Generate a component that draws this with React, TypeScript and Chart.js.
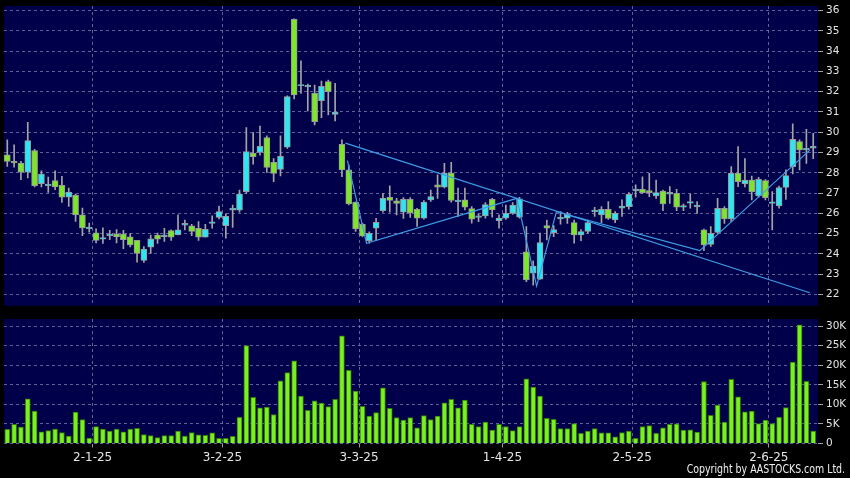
import React, { useEffect, useRef } from 'react';
import { Chart, registerables } from 'chart.js';

Chart.register(...registerables);

// ---- data (index 0 = first trading day shown) ----
const OPEN = [
  28.89, 28.52, 28.48, 28.03, 29.10, 27.46, 27.40, 27.62, 27.38, 26.80,
  26.89, 25.92, 25.28, 25.03, 24.72, 24.90, 24.97, 24.98, 24.84, 24.67,
  23.68, 24.33, 24.92, 24.89, 25.15, 24.95, 25.41, 25.38, 25.26, 24.82,
  25.54, 25.80, 25.39, 26.16, 26.15, 27.07, 28.97, 29.00, 29.74, 28.52,
  28.17, 29.26, 35.57, 32.30, 32.28, 31.92, 31.56, 32.50, 30.88, 29.40,
  28.14, 26.54, 25.46, 24.65, 25.26, 26.13, 26.79, 26.62, 26.05, 26.69,
  26.20, 25.76, 26.66, 27.40, 27.29, 27.98, 26.61, 26.66, 26.23, 25.84,
  25.87, 26.69, 25.64, 25.76, 26.00, 25.81, 24.10, 23.04, 22.75, 25.40,
  25.05, 25.76, 25.76, 25.54, 24.93, 25.10, 26.12, 25.92, 26.20, 25.67,
  26.25, 26.33, 27.15, 27.18, 27.12, 26.86, 27.10, 26.99, 26.99, 26.30,
  26.54, 26.36, 25.18, 24.47, 25.06, 26.25, 25.72, 27.97, 27.45, 27.64,
  26.86, 27.61, 26.53, 26.36, 27.28, 28.30, 29.54, 29.13, 29.26,
];
const HIGH = [
  29.62, 29.38, 28.56, 30.49, 29.16, 28.10, 27.79, 28.10, 27.82, 27.25,
  26.95, 26.26, 25.52, 25.23, 25.28, 25.16, 25.20, 25.16, 25.00, 24.67,
  24.36, 24.93, 25.02, 25.26, 25.18, 25.92, 25.67, 25.46, 25.59, 25.46,
  25.87, 26.36, 25.97, 26.41, 27.15, 30.23, 29.98, 30.30, 29.82, 28.70,
  29.82, 31.80, 35.60, 33.52, 32.38, 32.33, 32.53, 32.58, 32.41, 29.62,
  28.38, 26.57, 25.51, 25.09, 25.75, 26.99, 27.35, 26.74, 26.77, 26.77,
  26.25, 26.63, 27.15, 27.90, 28.47, 28.52, 27.24, 27.24, 26.33, 25.97,
  26.53, 26.74, 25.92, 26.41, 26.53, 26.79, 25.35, 23.65, 25.02, 25.67,
  25.40, 26.09, 26.05, 25.67, 25.20, 25.67, 26.30, 26.33, 26.58, 26.08,
  26.66, 27.02, 27.40, 27.80, 27.97, 27.64, 27.15, 27.32, 27.18, 26.46,
  26.95, 26.58, 25.22, 25.34, 26.74, 26.33, 28.30, 29.29, 28.70, 27.84,
  27.78, 27.66, 27.07, 27.34, 28.14, 30.41, 29.62, 30.14, 29.95,
];
const LOW = [
  28.31, 28.28, 27.66, 27.74, 27.30, 27.30, 27.03, 27.16, 26.54, 26.34,
  25.60, 24.90, 25.07, 24.54, 24.51, 24.70, 24.54, 24.25, 24.34, 23.59,
  23.57, 24.02, 24.51, 24.61, 24.66, 24.93, 25.18, 24.90, 24.66, 24.82,
  25.26, 25.72, 24.77, 25.30, 26.05, 26.98, 28.43, 28.87, 28.02, 27.56,
  27.85, 29.20, 31.64, 31.92, 31.05, 30.36, 30.72, 30.85, 30.56, 27.81,
  26.41, 25.10, 24.85, 24.52, 24.68, 26.05, 26.05, 25.92, 25.75, 25.80,
  25.35, 25.71, 26.58, 26.74, 27.25, 26.55, 25.84, 26.17, 25.51, 25.59,
  25.76, 25.81, 25.26, 25.70, 25.95, 25.76, 22.63, 22.45, 22.74, 24.69,
  24.85, 25.46, 25.50, 24.52, 24.65, 25.02, 25.84, 25.54, 25.70, 25.54,
  25.84, 26.20, 26.79, 26.98, 26.82, 26.74, 26.13, 26.49, 26.13, 26.13,
  26.25, 26.00, 24.16, 24.36, 25.01, 25.50, 25.59, 27.32, 27.30, 26.66,
  26.80, 26.66, 25.18, 26.25, 26.69, 27.94, 28.14, 28.46, 28.70,
];
const CLOSE = [
  28.56, 28.50, 28.03, 29.59, 27.36, 27.93, 27.43, 27.30, 26.80, 27.05,
  25.92, 25.28, 25.28, 24.66, 24.80, 24.97, 24.84, 24.70, 24.44, 24.02,
  24.24, 24.74, 24.72, 24.89, 24.82, 25.18, 25.51, 25.11, 24.82, 25.21,
  25.54, 26.08, 25.85, 26.25, 26.95, 29.05, 28.80, 29.31, 28.26, 27.97,
  28.81, 31.76, 31.84, 32.35, 32.33, 30.52, 32.27, 32.00, 31.00, 28.14,
  26.46, 25.23, 24.88, 25.01, 25.56, 26.74, 26.64, 26.49, 26.69, 26.02,
  25.76, 26.55, 26.83, 27.29, 27.98, 26.63, 26.61, 26.30, 25.71, 25.84,
  26.43, 26.17, 25.76, 26.00, 26.40, 26.71, 22.71, 23.40, 24.56, 25.26,
  25.20, 25.76, 25.95, 24.93, 25.10, 25.54, 26.12, 26.20, 25.75, 26.00,
  26.36, 26.94, 27.15, 27.02, 27.02, 27.02, 26.46, 26.99, 26.30, 26.38,
  26.54, 26.36, 24.44, 25.01, 26.25, 25.72, 27.97, 27.56, 27.64, 27.07,
  27.68, 26.77, 26.53, 27.27, 27.86, 29.65, 29.13, 29.20, 29.26,
];
// volume in thousands of shares
const VOLUME_K = [
  3.6, 4.9, 4.2, 11.4, 8.3, 3.0, 3.3, 3.7, 2.8, 1.9,
  8.0, 6.1, 1.4, 4.3, 3.7, 3.2, 3.7, 3.0, 3.7, 3.9,
  2.3, 2.0, 1.5, 2.0, 2.0, 3.2, 1.9, 2.8, 2.2, 2.1,
  2.7, 1.3, 1.3, 1.8, 6.7, 25.0, 11.8, 9.1, 9.3, 7.4,
  16.0, 18.1, 21.1, 12.1, 8.5, 10.9, 10.3, 9.4, 11.3, 27.5,
  18.7, 13.4, 9.5, 7.0, 7.9, 14.2, 9.0, 6.6, 6.0, 6.6,
  4.0, 7.1, 6.1, 7.0, 10.4, 11.3, 9.1, 11.1, 4.9, 4.3,
  5.5, 3.4, 4.9, 4.3, 3.3, 4.3, 16.5, 14.4, 12.1, 6.4,
  6.2, 3.8, 3.8, 5.1, 2.6, 3.2, 3.8, 2.7, 2.7, 1.7,
  2.8, 3.2, 1.3, 4.3, 4.6, 2.6, 4.0, 4.9, 5.0, 3.4,
  3.5, 2.9, 15.8, 7.2, 9.8, 5.5, 16.4, 11.9, 8.1, 8.3,
  5.1, 6.0, 5.1, 6.7, 9.2, 20.8, 30.3, 15.9, 3.2,
];

const X_TICK_INDEX = [12, 31, 51, 72, 91, 111];
const X_TICK_LABELS = ['2-1-25', '3-2-25', '3-3-25', '1-4-25', '2-5-25', '2-6-25'];
const PRICE_TICKS = [22, 23, 24, 25, 26, 27, 28, 29, 30, 31, 32, 33, 34, 35, 36];
const VOLUME_TICKS = [0, 5, 10, 15, 20, 25, 30];

// drawn trend lines (x = trading-day index, y = price)
const TREND_LINE = [
  { x: 49.5, y: 29.46 },
  { x: 117.5, y: 22.08 },
];
const TREND_ZIGZAG = [
  { x: 49.8, y: 28.6 },
  { x: 52.6, y: 24.52 },
  { x: 74.6, y: 26.74 },
  { x: 77.5, y: 22.41 },
  { x: 80.4, y: 26.08 },
  { x: 101.4, y: 24.16 },
  { x: 117.5, y: 29.12 },
];

// ---- styling ----
const NAVY = '#00004a';
const GRID = 'rgba(130,130,175,0.75)';
const CYAN = '#2ee6f2';
const GREEN = '#7ee62a';
const WICK = '#a4a4a4';
const BODY_EDGE = '#9a9a9a';
const TREND = '#3d9de6';
const LABEL = '#e4e4e4';
const FONT = 'DejaVu Sans';

const X_MIN = -0.48;
const X_MAX = 118.7;

const panelBg = {
  id: 'panelBg',
  beforeDraw(chart: any) {
    const { ctx, chartArea: a } = chart;
    ctx.save();
    ctx.fillStyle = NAVY;
    ctx.fillRect(a.left, a.top, a.right - a.left, a.bottom - a.top);
    ctx.restore();
  },
};

function xScale(showLabels: boolean, height: number) {
  return {
    type: 'linear',
    min: X_MIN,
    max: X_MAX,
    offset: false,
    afterBuildTicks: (s: any) => {
      s.ticks = X_TICK_INDEX.map((i) => ({ value: i + 0.5 }));
    },
    afterFit: (s: any) => {
      s.height = height;
      s.paddingLeft = 0;
      s.paddingRight = 0;
      s.paddingTop = 0;
      s.paddingBottom = 0;
    },
    ticks: {
      display: showLabels,
      autoSkip: false,
      maxRotation: 0,
      padding: 3,
      color: LABEL,
      font: { family: FONT, size: 12 },
      callback: (_v: any, idx: number) => X_TICK_LABELS[idx],
    },
    grid: {
      color: GRID,
      lineWidth: 1,
      offset: false,
      drawTicks: showLabels,
      tickLength: 4,
      tickColor: '#9a9a9a',
      tickBorderDash: [],
    },
    border: { display: false, dash: [3, 3] },
  };
}

function yScale(min: number, max: number, ticks: number[], fmt: (v: number) => string) {
  return {
    position: 'right',
    min,
    max,
    beginAtZero: false,
    afterBuildTicks: (s: any) => {
      s.ticks = ticks.map((v) => ({ value: v }));
    },
    afterFit: (s: any) => {
      s.width = 32;
      s.paddingTop = 0;
      s.paddingBottom = 0;
      s.paddingLeft = 0;
      s.paddingRight = 0;
    },
    ticks: {
      padding: 3,
      color: LABEL,
      font: { family: FONT, size: 10.5 },
      callback: (v: any) => fmt(Number(v)),
    },
    grid: {
      color: GRID,
      lineWidth: 1,
      drawTicks: true,
      tickLength: 5,
      tickColor: '#a0a0a0',
      tickBorderDash: [],
    },
    border: { display: false, dash: [3, 3] },
  };
}

export default function App() {
  const priceRef = useRef<HTMLCanvasElement>(null);
  const volRef = useRef<HTMLCanvasElement>(null);

  useEffect(() => {
    document.body.style.margin = '0';
    document.body.style.background = '#000';

    const idx = OPEN.map((_, i) => i);
    const bodies = idx.map((i) => {
      const o = OPEN[i];
      const c = CLOSE[i];
      if (Math.abs(o - c) < 0.05) return { x: i, y: [o - 0.04, o + 0.04] };
      return { x: i, y: [o, c] };
    });
    const wicks = idx.map((i) => ({ x: i, y: [LOW[i], HIGH[i]] }));

    const price = new Chart(priceRef.current as HTMLCanvasElement, {
      type: 'bar',
      data: {
        datasets: [
          {
            type: 'line',
            data: TREND_LINE,
            borderColor: TREND,
            borderWidth: 1.2,
            pointRadius: 0,
            tension: 0,
            order: 0,
          },
          {
            type: 'line',
            data: TREND_ZIGZAG,
            borderColor: TREND,
            borderWidth: 1.2,
            pointRadius: 0,
            tension: 0,
            order: 0,
          },
          {
            type: 'bar',
            data: bodies,
            barThickness: 6,
            grouped: false,
            backgroundColor: (ctx: any) =>
              CLOSE[ctx.dataIndex] >= OPEN[ctx.dataIndex] ? CYAN : GREEN,
            borderColor: BODY_EDGE,
            borderWidth: 1,
            borderSkipped: false,
            order: 1,
          },
          {
            type: 'bar',
            data: wicks,
            barThickness: 1,
            grouped: false,
            backgroundColor: WICK,
            borderWidth: 0,
            order: 2,
          },
        ] as any,
      },
      options: {
        responsive: false,
        maintainAspectRatio: false,
        animation: false,
        devicePixelRatio: 1,
        layout: { padding: { left: 4, top: 6, right: 0, bottom: 6.3 } },
        plugins: { legend: { display: false }, tooltip: { enabled: false } },
        scales: {
          x: xScale(false, 0),
          y: yScale(21.44, 36.23, PRICE_TICKS, (v) => String(v)),
        } as any,
      },
      plugins: [panelBg],
    });

    const volume = new Chart(volRef.current as HTMLCanvasElement, {
      type: 'bar',
      data: {
        datasets: [
          {
            data: VOLUME_K.map((v, i) => ({ x: i, y: v })),
            barThickness: 5,
            grouped: false,
            backgroundColor: '#7cf01e',
            borderColor: '#2f7d08',
            borderWidth: 1,
          },
        ] as any,
      },
      options: {
        responsive: false,
        maintainAspectRatio: false,
        animation: false,
        devicePixelRatio: 1,
        layout: { padding: { left: 4, top: 7, right: 0, bottom: 0 } },
        plugins: { legend: { display: false }, tooltip: { enabled: false } },
        scales: {
          x: xScale(true, 34.5),
          y: yScale(0, 31.8, VOLUME_TICKS, (v) => (v === 0 ? '0' : v + 'K')),
        } as any,
      },
      plugins: [panelBg],
    });

    return () => {
      price.destroy();
      volume.destroy();
    };
  }, []);

  return (
    <div
      style={{
        position: 'absolute',
        left: 0,
        top: 0,
        width: 850,
        height: 478,
        background: '#000',
        overflow: 'hidden',
      }}
    >
      <canvas
        ref={priceRef}
        width={850}
        height={312}
        style={{ position: 'absolute', left: 0, top: 0, width: 850, height: 312 }}
      />
      <canvas
        ref={volRef}
        width={850}
        height={166}
        style={{ position: 'absolute', left: 0, top: 312, width: 850, height: 166 }}
      />
      <div
        style={{
          position: 'absolute',
          right: 5,
          top: 462,
          color: '#f0f0f0',
          font: '12px "DejaVu Sans", sans-serif',
          lineHeight: '14px',
          whiteSpace: 'nowrap',
          transform: 'scaleX(0.784)',
          transformOrigin: 'right center',
        }}
      >
        Copyright by AASTOCKS.com Ltd.
      </div>
    </div>
  );
}
